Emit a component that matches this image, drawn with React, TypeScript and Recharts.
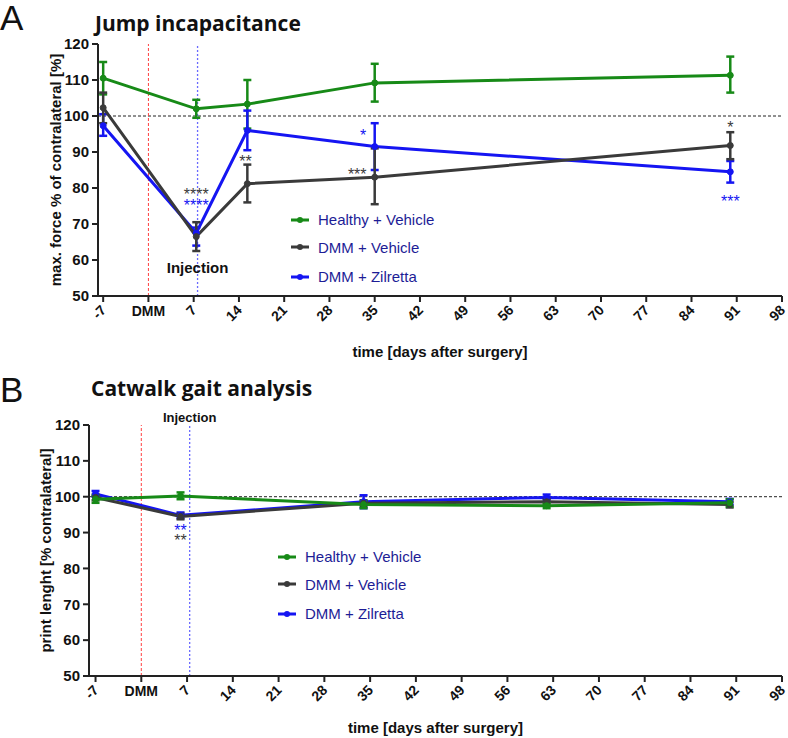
import React from "react";
import {
  LineChart,
  Line,
  XAxis,
  YAxis,
  ErrorBar,
  ReferenceLine,
  ReferenceDot,
} from "recharts";

const FONT = "'Liberation Sans', Arial, sans-serif";
const GREEN = "#178a17";
const GREY = "#3a3a3a";
const BLUE = "#1515f2";
const NAVY = "#1d1d96";

const xTicks = [-7, 0, 7, 14, 21, 28, 35, 42, 49, 56, 63, 70, 77, 84, 91, 98];
const yTicks = [50, 60, 70, 80, 90, 100, 110, 120];
const seriesNames = ["Healthy + Vehicle", "DMM + Vehicle", "DMM + Zilretta"];

// A: jump incapacitance
const jumpDays = [-7, 7.4, 15.3, 35, 90];
const jumpHealthy = [110.5, 102, 103.3, 109.2, 111.3];
const jumpHealthyLo = [106, 99.5, 96.5, 104, 106.5];
const jumpHealthyHi = [115, 104.5, 110, 114.5, 116.5];
const jumpDmm = [102.3, 66.5, 81.2, 83, 91.8];
const jumpDmmLo = [98, 62.5, 76, 75.5, 88];
const jumpDmmHi = [106.5, 70.5, 86.5, 91, 95.5];
const jumpZil = [97.3, 67.5, 96, 91.5, 84.5];
const jumpZilLo = [94.5, 64, 90.5, 85, 81.5];
const jumpZilHi = [100.5, 69, 101.5, 98, 87.5];
const jumpStars = [
  { day: 7.4, y: 79.2, text: "****", color: GREY },
  { day: 7.4, y: 76.1, text: "****", color: BLUE },
  { day: 15, y: 88.3, text: "**", color: GREY },
  { day: 33.2, y: 95.5, text: "*", color: BLUE },
  { day: 32.3, y: 84.7, text: "***", color: GREY },
  { day: 90, y: 97.8, text: "*", color: GREY },
  { day: 90, y: 77.2, text: "***", color: BLUE },
];

// B: catwalk gait analysis
const gaitDays = [-7, 6, 34, 62, 90];
const gaitHealthy = [99.3, 100.2, 97.8, 97.5, 98.3];
const gaitHealthyLo = [98.3, 99.3, 96.8, 96.8, 97.3];
const gaitHealthyHi = [100.3, 101.2, 98.8, 98.2, 99.3];
const gaitDmm = [99.8, 94.5, 98.2, 98.6, 97.8];
const gaitDmmLo = [99.0, 93.7, 97.4, 97.8, 97.0];
const gaitDmmHi = [100.6, 95.3, 99.0, 99.4, 98.6];
const gaitZil = [100.8, 94.8, 98.6, 99.8, 98.6];
const gaitZilLo = [100.0, 94.0, 96.8, 99.0, 97.8];
const gaitZilHi = [101.6, 95.6, 100.4, 100.6, 99.4];
const gaitStars = [
  { day: 6, y: 91.6, text: "**", color: BLUE },
  { day: 6, y: 88.8, text: "**", color: GREY },
];

const rows = (days: number[], mean: number[], lo: number[], hi: number[]) =>
  days.map((d, i) => ({ day: d, v: mean[i], err: [mean[i] - lo[i], hi[i] - mean[i]] }));

const XTick = ({ x, y, payload }: any) =>
  payload.value === 0 ? (
    <text x={x} y={y + 12} textAnchor="middle" fontFamily={FONT} fontWeight="bold" fontSize={14} fill="#111">
      DMM
    </text>
  ) : (
    <text
      transform={`translate(${x - 3},${y}) rotate(-45)`}
      textAnchor="end"
      dy="0.7em"
      fontFamily={FONT}
      fontWeight="bold"
      fontSize={14}
      fill="#111"
    >
      {payload.value}
    </text>
  );

function LegendBox({ left, top, colors }: { left: number; top: number; colors: string[] }) {
  return (
    <div style={{ position: "absolute", left, top, fontFamily: FONT, fontSize: 15, color: NAVY }}>
      {seriesNames.map((n, i) => (
        <div key={n} style={{ display: "flex", alignItems: "center", height: i === 1 ? 28 : 27, marginBottom: i === 1 ? 2 : 0 }}>
          <svg width={22} height={8} style={{ marginRight: 6 }}>
            <line x1={1} y1={4} x2={19} y2={4} stroke={colors[i]} strokeWidth={3} />
            <circle cx={10} cy={4} r={3} fill={colors[i]} />
          </svg>
          {n}
        </div>
      ))}
    </div>
  );
}

function Panel(props: {
  height: number;
  top: number;
  plotLeft: number;
  bottom: number;
  xMin: number;
  yLabel: string;
  yLabelX: number;
  xLabelOffset: number;
  injection: number;
  injectionInside: boolean;
  series: { name: string; color: string; data: any[] }[];
  stars: { day: number; y: number; text: string; color: string }[];
}) {
  const { height, plotLeft, bottom } = props;
  return (
    <LineChart
      width={788}
      height={height}
      margin={{ top: props.top, right: 6, left: 0, bottom: 0 }}
    >
      <XAxis
        dataKey="day"
        type="number"
        domain={[props.xMin, 98]}
        ticks={xTicks}
        interval={0}
        allowDuplicatedCategory={false}
        tick={<XTick />}
        tickSize={6}
        height={bottom}
        stroke="#222"
        strokeWidth={2}
        label={({ viewBox }: any) => (
          <text
            x={viewBox.x + viewBox.width / 2}
            y={viewBox.y + props.xLabelOffset}
            textAnchor="middle"
            fontFamily={FONT}
            fontWeight="bold"
            fontSize={15}
            fill="#111"
          >
            time [days after surgery]
          </text>
        )}
      />
      <YAxis
        type="number"
        domain={[50, 120]}
        ticks={yTicks}
        interval={0}
        width={plotLeft}
        tickSize={6}
        tickMargin={3}
        stroke="#222"
        strokeWidth={2}
        tick={{ fontFamily: FONT, fontWeight: "bold", fontSize: 15, fill: "#111" }}
        label={({ viewBox }: any) => {
          const cy = viewBox.y + viewBox.height / 2;
          return (
            <text
              transform={`translate(${props.yLabelX},${cy}) rotate(-90)`}
              textAnchor="middle"
              dominantBaseline="central"
              fontFamily={FONT}
              fontWeight="bold"
              fontSize={15}
              fill="#111"
            >
              {props.yLabel}
            </text>
          );
        }}
      />
      <ReferenceLine y={100} stroke="#222" strokeDasharray="3 2" strokeWidth={1} />
      <ReferenceLine x={0} stroke="#ff4040" strokeDasharray="3 2" strokeWidth={1} />
      <ReferenceLine
        x={props.injection}
        stroke="#6a6aff"
        strokeDasharray="2 2"
        strokeWidth={1.3}
        label={
          props.injectionInside
            ? undefined
            : { value: "Injection", position: "top", offset: 3, fontFamily: FONT, fontWeight: "bold", fontSize: 13, fill: "#111" }
        }
      />
      {props.injectionInside && (
        <ReferenceDot
          x={props.injection}
          y={57.8}
          r={0}
          stroke="none"
          fill="none"
          label={{ value: "Injection", position: "center", fontFamily: FONT, fontWeight: "bold", fontSize: 15, fill: "#111" }}
        />
      )}
      {props.series.map((s) => (
        <Line
          key={s.name}
          name={s.name}
          data={s.data}
          dataKey="v"
          type="linear"
          stroke={s.color}
          strokeWidth={3}
          dot={{ r: 3, fill: s.color, stroke: s.color, strokeWidth: 1 }}
          isAnimationActive={false}
        >
          <ErrorBar dataKey="err" width={4} stroke={s.color} strokeWidth={2.5} direction="y" />
        </Line>
      ))}
      {props.stars.map((a, i) => (
        <ReferenceDot
          key={i}
          x={a.day}
          y={a.y}
          r={0}
          stroke="none"
          fill="none"
          label={({ viewBox }: any) => (
            <text
              x={viewBox.cx ?? viewBox.x}
              y={(viewBox.cy ?? viewBox.y) + 9}
              textAnchor="middle"
              fontFamily={FONT}
              fontSize={16}
              fill={a.color}
            >
              {a.text}
            </text>
          )}
        />
      ))}
    </LineChart>
  );
}

export default function App() {
  const jumpSeries = [
    { name: seriesNames[0], color: GREEN, data: rows(jumpDays, jumpHealthy, jumpHealthyLo, jumpHealthyHi) },
    { name: seriesNames[2], color: BLUE, data: rows(jumpDays, jumpZil, jumpZilLo, jumpZilHi) },
    { name: seriesNames[1], color: GREY, data: rows(jumpDays, jumpDmm, jumpDmmLo, jumpDmmHi) },
  ];
  const gaitSeries = [
    { name: seriesNames[2], color: BLUE, data: rows(gaitDays, gaitZil, gaitZilLo, gaitZilHi) },
    { name: seriesNames[1], color: GREY, data: rows(gaitDays, gaitDmm, gaitDmmLo, gaitDmmHi) },
    { name: seriesNames[0], color: GREEN, data: rows(gaitDays, gaitHealthy, gaitHealthyLo, gaitHealthyHi) },
  ];
  const heading = { position: "absolute" as const, fontFamily: "'Open Sans', sans-serif", fontWeight: 700, color: "#111", lineHeight: 1 };
  const letter = { position: "absolute" as const, fontFamily: FONT, fontSize: 35, color: "#111", lineHeight: 1 };
  return (
    <div style={{ position: "absolute", left: 0, top: 0, width: 788, height: 738, background: "#fff" }}>
      <div style={{ position: "absolute", left: 0, top: 0 }}>
        <Panel
          height={372}
          top={44}
          plotLeft={98}
          bottom={76}
          xMin={-7.8}
          yLabel="max. force % of contralateral  [%]"
          yLabelX={55}
          xLabelOffset={61}
          injection={7.6}
          injectionInside
          series={jumpSeries}
          stars={jumpStars}
        />
      </div>
      <div style={{ position: "absolute", left: 0, top: 390 }}>
        <Panel
          height={348}
          top={35}
          plotLeft={89}
          bottom={62}
          xMin={-8}
          yLabel="print lenght [% contralateral]"
          yLabelX={45}
          xLabelOffset={57}
          injection={7.4}
          injectionInside={false}
          series={gaitSeries}
          stars={gaitStars}
        />
      </div>
      <LegendBox left={290} top={206} colors={[GREEN, GREY, BLUE]} />
      <LegendBox left={277} top={543} colors={[GREEN, GREY, BLUE]} />
      <div style={{ ...letter, left: 0, top: 0 }}>A</div>
      <div style={{ ...heading, left: 95, top: 13, fontSize: 21 }}>Jump incapacitance</div>
      <div style={{ ...letter, left: 0, top: 372 }}>B</div>
      <div style={{ ...heading, left: 91, top: 378, fontSize: 21 }}>Catwalk gait analysis</div>
    </div>
  );
}
